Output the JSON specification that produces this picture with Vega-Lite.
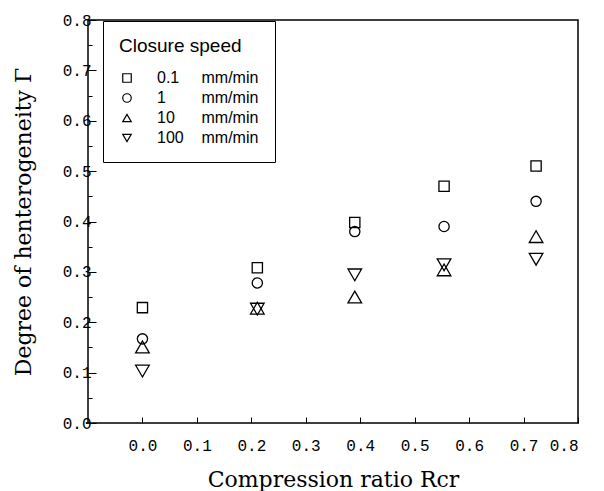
{
  "$schema": "https://vega.github.io/schema/vega-lite/v6.json",
  "width": 490,
  "height": 403,
  "autosize": "none",
  "padding": {"left": 88, "top": 20, "right": 26, "bottom": 68},
  "background": "white",
  "config": {
    "view": {"stroke": "black", "strokeWidth": 1.5},
    "axis": {"grid": false, "domain": false, "tickColor": "black", "labelColor": "black", "titleColor": "black", "labelFont": "Liberation Mono", "labelFontSize": 16, "titleFont": "DejaVu Serif", "titleFontSize": 22, "titleFontWeight": "normal"},
    "legend": {"strokeColor": "black", "fillColor": "white"}
  },
  "data": {
    "values": [
      {"ratio": 0.0, "gamma": 0.229, "speed": "0.1"},
      {"ratio": 0.0, "gamma": 0.167, "speed": "1"},
      {"ratio": 0.0, "gamma": 0.151, "speed": "10"},
      {"ratio": 0.0, "gamma": 0.103, "speed": "100"},
      {"ratio": 0.211, "gamma": 0.308, "speed": "0.1"},
      {"ratio": 0.211, "gamma": 0.278, "speed": "1"},
      {"ratio": 0.211, "gamma": 0.228, "speed": "10"},
      {"ratio": 0.211, "gamma": 0.226, "speed": "100"},
      {"ratio": 0.39, "gamma": 0.398, "speed": "0.1"},
      {"ratio": 0.39, "gamma": 0.38, "speed": "1"},
      {"ratio": 0.39, "gamma": 0.25, "speed": "10"},
      {"ratio": 0.39, "gamma": 0.294, "speed": "100"},
      {"ratio": 0.554, "gamma": 0.47, "speed": "0.1"},
      {"ratio": 0.554, "gamma": 0.39, "speed": "1"},
      {"ratio": 0.554, "gamma": 0.304, "speed": "10"},
      {"ratio": 0.554, "gamma": 0.314, "speed": "100"},
      {"ratio": 0.723, "gamma": 0.51, "speed": "0.1"},
      {"ratio": 0.723, "gamma": 0.44, "speed": "1"},
      {"ratio": 0.723, "gamma": 0.37, "speed": "10"},
      {"ratio": 0.723, "gamma": 0.325, "speed": "100"}
    ]
  },
  "mark": {"type": "point", "filled": false, "strokeWidth": 1.3, "color": "black", "opacity": 1},
  "encoding": {
    "x": {
      "field": "ratio", "type": "quantitative",
      "scale": {"domain": [-0.1, 0.8], "nice": false, "zero": false},
      "axis": {"title": "Compression ratio Rcr", "values": [0, 0.1, 0.2, 0.3, 0.4, 0.5, 0.6, 0.7, 0.8], "format": ".1f", "tickSize": -6, "labelPadding": 20, "titlePadding": 16}
    },
    "y": {
      "field": "gamma", "type": "quantitative",
      "scale": {"domain": [0, 0.8], "nice": false},
      "axis": {
        "title": "Degree of henterogeneity Γ",
        "values": [0, 0.05, 0.1, 0.15, 0.2, 0.25, 0.3, 0.35, 0.4, 0.45, 0.5, 0.55, 0.6, 0.65, 0.7, 0.75, 0.8],
        "labelExpr": "round(datum.value*20) % 2 == 0 ? format(datum.value, '.1f') : ''",
        "tickSize": {"condition": {"test": "round(datum.value*20) % 2 == 1", "value": -4}, "value": -8},
        "labelPadding": 5, "titlePadding": 27
      }
    },
    "size": {"condition": {"test": "datum.speed == '10' || datum.speed == '100'", "value": 185}, "value": 105},
    "shape": {
      "field": "speed", "type": "nominal",
      "scale": {"domain": ["0.1", "1", "10", "100"], "range": ["square", "circle", "triangle-up", "triangle-down"]},
      "legend": {
        "title": "Closure speed",
        "orient": "none", "legendX": 15, "legendY": 1,
        "padding": 16, "titleFont": "Liberation Sans", "titleFontSize": 19, "titleFontWeight": "normal", "titlePadding": 14,
        "labelFont": "Liberation Sans", "labelFontSize": 16,
        "labelExpr": "datum.label == '0.1' ? '0.1\u00a0\u00a0\u00a0\u00a0\u00a0mm/min' : datum.label == '1' ? '1\u00a0\u00a0\u00a0\u00a0\u00a0\u00a0\u00a0\u00a0mm/min' : datum.label == '10' ? '10\u00a0\u00a0\u00a0\u00a0\u00a0\u00a0mm/min' : '100\u00a0\u00a0\u00a0\u00a0mm/min'",
        "symbolSize": 72, "symbolStrokeWidth": 1.2, "symbolStrokeColor": "black", "symbolFillColor": "transparent",
        "labelOffset": 22, "rowPadding": 4
      }
    }
  }
}
